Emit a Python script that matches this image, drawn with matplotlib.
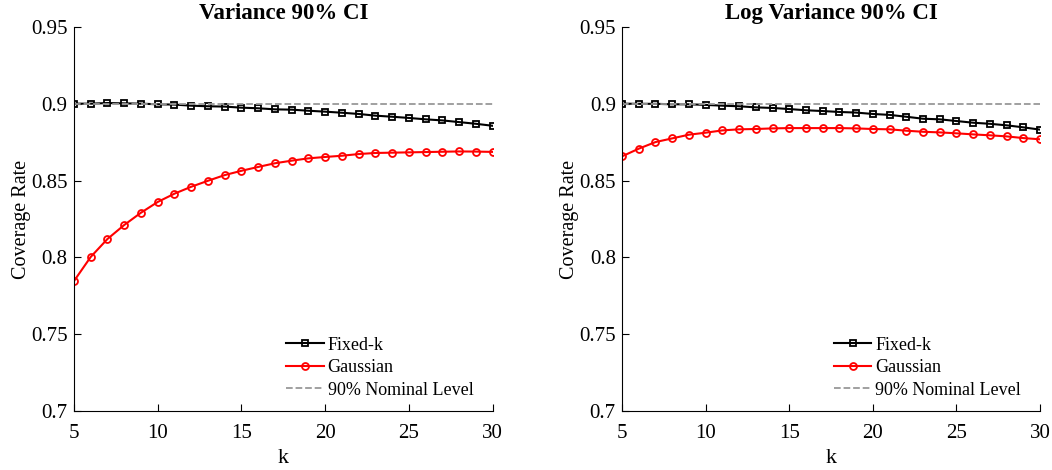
import numpy as np
import matplotlib.pyplot as plt

plt.rcParams['font.family'] = ['Liberation Serif', 'DejaVu Serif']
plt.rcParams['mathtext.fontset'] = 'stix'

k = np.arange(5, 31)

# Variance 90% CI
var_fixed = [0.9001, 0.9001, 0.9005, 0.9003, 0.9001, 0.8997, 0.8995, 0.8988, 0.8984,
             0.8982, 0.8975, 0.8971, 0.8964, 0.8962, 0.8955, 0.8949, 0.8942, 0.8934,
             0.8923, 0.8916, 0.8908, 0.8899, 0.8892, 0.8881, 0.8870, 0.8857]
var_gauss = [0.7846, 0.8003, 0.8120, 0.8211, 0.8291, 0.8361, 0.8415, 0.8460, 0.8499,
             0.8536, 0.8564, 0.8589, 0.8613, 0.8630, 0.8645, 0.8654, 0.8662, 0.8673,
             0.8680, 0.8682, 0.8684, 0.8686, 0.8688, 0.8690, 0.8689, 0.8687]

# Log Variance 90% CI
logvar_fixed = [0.9001, 0.9000, 0.9000, 0.8997, 0.8997, 0.8993, 0.8988, 0.8984, 0.8977,
                0.8973, 0.8966, 0.8958, 0.8953, 0.8947, 0.8943, 0.8934, 0.8928, 0.8916,
                0.8903, 0.8899, 0.8888, 0.8877, 0.8870, 0.8860, 0.8847, 0.8832]
logvar_gauss = [0.8658, 0.8708, 0.8751, 0.8775, 0.8799, 0.8812, 0.8827, 0.8834, 0.8836,
                0.8840, 0.8842, 0.8842, 0.8842, 0.8842, 0.8840, 0.8836, 0.8834, 0.8825,
                0.8818, 0.8814, 0.8808, 0.8801, 0.8795, 0.8788, 0.8777, 0.8769]

nominal = 0.9
titles = ['Variance 90% CI', 'Log Variance 90% CI']

fig = plt.figure(figsize=(10.52, 4.70), dpi=100)
ax1 = fig.add_axes([0.0703, 0.1255, 0.398, 0.817])
ax2 = fig.add_axes([0.5913, 0.1255, 0.3973, 0.817])

for ax, fixed, gauss, title in zip([ax1, ax2], [var_fixed, logvar_fixed],
                                   [var_gauss, logvar_gauss], titles):
    ax.plot(k, fixed, 'k-', marker='s', markersize=4.5, markerfacecolor='none',
            markeredgewidth=1.3, linewidth=1.5, label='Fixed-k')
    ax.plot(k, gauss, 'r-', marker='o', markersize=5, markerfacecolor='none',
            markeredgewidth=1.3, linewidth=1.5, label='Gaussian')
    ax.plot(k, np.full(len(k), nominal), '--', color=(0.6, 0.6, 0.6),
            linewidth=1.3, label='90% Nominal Level')
    ax.set_xlim(5, 30)
    ax.set_ylim(0.7, 0.95)
    ax.set_xticks([5, 10, 15, 20, 25, 30])
    ax.set_yticks([0.7, 0.75, 0.8, 0.85, 0.9, 0.95])
    ax.set_yticklabels(['0.7', '0.75', '0.8', '0.85', '0.9', '0.95'])
    ax.spines['top'].set_visible(False)
    ax.spines['right'].set_visible(False)
    ax.tick_params(direction='in', labelsize=15, length=5, width=0.8)
    ax.tick_params(axis='x', pad=9)
    ax.tick_params(axis='y', pad=4.5)
    ax.set_title(title, fontsize=16.5, fontweight='bold', pad=6)
    ax.set_xlabel('k', fontsize=16, labelpad=5)
    ax.set_ylabel('Coverage Rate', fontsize=14.5, labelpad=0)
    ax.legend(loc='lower right', frameon=False, fontsize=13, handlelength=2.1,
              handletextpad=0.2, labelspacing=0.3, bbox_to_anchor=(0.993, -0.01))

fig.savefig('out.png', dpi=100)
